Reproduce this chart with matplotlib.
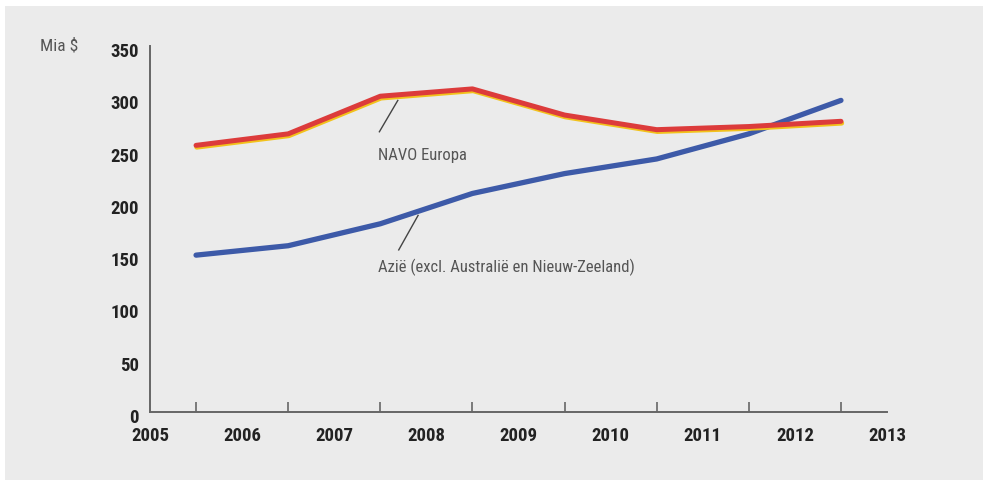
import matplotlib.pyplot as plt
import matplotlib.transforms as mtransforms
from matplotlib import font_manager
from matplotlib.patches import Rectangle

# data (Mia $), points sit mid-year
years = [2005.5, 2006.5, 2007.5, 2008.5, 2009.5, 2010.5, 2011.5, 2012.5]
navo_europa = [255, 266, 302, 309, 284, 270, 273, 278]
azie = [150, 159, 180, 209, 228, 242, 266, 298]
year_labels = ['2005', '2006', '2007', '2008', '2009', '2010', '2011', '2012', '2013']
y_ticks = [0, 50, 100, 150, 200, 250, 300, 350]

# pick a narrow font if one is around
names = {f.name for f in font_manager.fontManager.ttflist}
stretch = 'normal'
family = 'DejaVu Sans'
for cand in ['Liberation Sans Narrow', 'Roboto Condensed', 'Open Sans Condensed', 'DejaVu Sans Condensed']:
    if cand in names:
        family = cand
        break
else:
    if any(f.name == 'DejaVu Sans' and f.stretch == 'condensed' for f in font_manager.fontManager.ttflist):
        stretch = 'condensed'
plt.rcParams['font.family'] = [family, 'DejaVu Sans']
plt.rcParams['font.stretch'] = stretch

bg = '#ebebeb'
fig = plt.figure(figsize=(9.88, 4.86), dpi=100)
fig.patch.set_facecolor('white')
fig.patches.append(Rectangle((0.005, 0.012), 0.99, 0.976, transform=fig.transFigure,
                             facecolor=bg, edgecolor='none', zorder=-10))

ax = fig.add_axes([0.1518, 0.1523, 0.7460, 0.7530])
ax.set_facecolor('none')

# blue line
ax.plot(years, azie, color='#3d5aa8', lw=3.8, solid_capstyle='round', zorder=3)
# red line with yellow shadow under it
shadow = mtransforms.offset_copy(ax.transData, fig=fig, x=0.5, y=-1.3, units='points')
ax.plot(years, navo_europa, color='#f2c21c', lw=3.6, solid_capstyle='round',
        transform=shadow, zorder=4)
ax.plot(years, navo_europa, color='#dc3b3b', lw=3.6, solid_capstyle='round', zorder=5)

ax.set_xlim(2005, 2013)
ax.set_ylim(0, 350)

for s in ['top', 'right']:
    ax.spines[s].set_visible(False)
for s in ['left', 'bottom']:
    ax.spines[s].set_color('#666666')
    ax.spines[s].set_linewidth(1.4)

# major ticks at mid-year (marks only), year labels on minor positions
ax.set_xticks(years)
ax.set_xticklabels([])
ax.tick_params(axis='x', which='major', direction='in', length=7, width=1.2, color='#666666')
ax.set_xticks(list(range(2005, 2014)), minor=True)
ax.set_xticklabels(year_labels, minor=True)
ax.tick_params(axis='x', which='minor', length=0, pad=11, labelsize=13.5, labelcolor='#222222')
for lab in ax.get_xticklabels(minor=True):
    lab.set_fontweight('bold')

ax.set_yticks(y_ticks)
ax.set_yticklabels([str(v) for v in y_ticks])
ax.tick_params(axis='y', length=0, pad=8, labelsize=13.5, labelcolor='#222222')
down = mtransforms.ScaledTranslation(0, -4 / 100, fig.dpi_scale_trans)
for lab in ax.get_yticklabels():
    lab.set_fontweight('bold')
    lab.set_transform(lab.get_transform() + down)

fig.text(0.040, 0.905, 'Mia $', fontsize=12.5, color='#555555', va='center')

# labels with their leader lines
ax.text(2007.47, 245, 'NAVO Europa', fontsize=12, color='#555555', va='center', ha='left')
ax.plot([2007.49, 2007.69], [268, 298], color='#444444', lw=1.0, zorder=2)
ax.text(2007.47, 138, 'Azië (excl. Australië en Nieuw-Zeeland)', fontsize=12,
        color='#555555', va='center', ha='left')
ax.plot([2007.70, 2007.91], [155, 188], color='#444444', lw=1.0, zorder=2)

fig.savefig('out.png', dpi=100, facecolor=fig.get_facecolor())
